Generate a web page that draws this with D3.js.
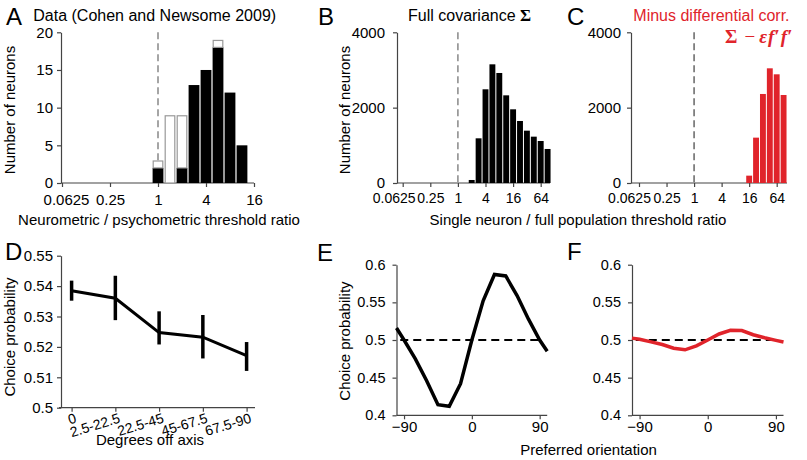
<!DOCTYPE html>
<html><head><meta charset="utf-8">
<script src="https://cdn.jsdelivr.net/npm/d3@7"></script>
<style>
html,body{margin:0;padding:0;background:#fff;}
svg{display:block;font-family:"Liberation Sans",Arial,Helvetica,sans-serif;}
</style></head><body>
<svg id="chart" width="807" height="460"></svg>
<script>
// ---------------- data ----------------
const histXTicksA = [0.0625, 0.25, 1, 4, 16];
const histXTicksBC = [0.0625, 0.25, 1, 4, 16, 64];
const aBinCenters = [1, 1.414, 2, 2.828, 4, 5.657, 8, 11.31];
const aFilled = [2, 0, 2, 13, 15, 18, 12, 5];
const aOpen = [1, 9, 7, 0, 0, 1, 0, 0];
const aYTicks = [0, 5, 10, 15, 20];
const bBinCenters = [2, 2.828, 4, 5.657, 8, 11.31, 16, 22.63, 32, 45.25, 64, 90.51];
const bCounts = [80, 1186, 2487, 3150, 2920, 2327, 1956, 1646, 1389, 1230, 1115, 903];
const cBinCenters = [16, 22.63, 32, 45.25, 64, 90.51];
const cCounts = [195, 1204, 2363, 3044, 2885, 2336];
const bcYTicks = [0, 2000, 4000];
const dCategories = ["0", "2.5-22.5", "22.5-45", "45-67.5", "67.5-90"];
const dCP = [0.5385, 0.5360, 0.5247, 0.5232, 0.5171];
const dErrLow = [0.5352, 0.5288, 0.5208, 0.5162, 0.5121];
const dErrHigh = [0.5418, 0.5434, 0.5317, 0.5305, 0.5216];
const dYTicks = [0.5, 0.51, 0.52, 0.53, 0.54, 0.55];
const orientations = [-100, -90, -75, -60, -45, -30, -15, 0, 15, 30, 45, 60, 75, 90, 100];
const eCP = [0.516, 0.500, 0.475, 0.446, 0.414, 0.412, 0.442, 0.500, 0.552, 0.587, 0.585, 0.559, 0.528, 0.500, 0.485];
const fCP = [0.5025, 0.501, 0.4975, 0.494, 0.489, 0.487, 0.4923, 0.500, 0.508, 0.5128, 0.5125, 0.507, 0.503, 0.4995, 0.4973];
const efYTicks = [0.4, 0.45, 0.5, 0.55, 0.6];
const efXTicks = [-90, 0, 90];
const refRange = [-95, 90];

// ---------------- style ----------------
const AX = "#444";
const RED = "#e0242b";
const SERIF = '"Liberation Serif","DejaVu Serif",serif';
const svg = d3.select("#chart");

function styleAxis(g, fs) {
  g.attr("font-size", null).attr("font-family", null);
  g.selectAll("path.domain").attr("stroke", AX).attr("stroke-width", 1.2);
  g.selectAll(".tick line").attr("stroke", AX).attr("stroke-width", 1.2);
  g.selectAll(".tick text").attr("fill", "#000").style("font-size", (fs || 15) + "px");
}
function bottomAxis(scale, ticks, fmt, y, x0, x1, pad, fs) {
  const g = svg.append("g").attr("transform", `translate(0,${y})`)
    .call(d3.axisBottom(scale).tickValues(ticks).tickFormat(fmt).tickSize(4).tickSizeOuter(0).tickPadding(pad));
  g.select("path.domain").attr("d", `M${x0},0H${x1}`);
  styleAxis(g, fs);
  return g;
}
function leftAxis(scale, ticks, fmt, x, pad, fs) {
  const g = svg.append("g").attr("transform", `translate(${x},0)`)
    .call(d3.axisLeft(scale).tickValues(ticks).tickFormat(fmt).tickSize(4).tickSizeOuter(0).tickPadding(pad));
  styleAxis(g, fs);
  return g;
}
function text(x, y, s, opts) {
  opts = opts || {};
  const t = svg.append("text").attr("x", x).attr("y", y).text(s)
    .style("font-size", (opts.size || 15) + "px")
    .attr("fill", opts.fill || "#000")
    .attr("text-anchor", opts.anchor || "start");
  if (opts.rotate) t.attr("transform", `rotate(${opts.rotate},${x},${y})`);
  return t;
}
const fmtHist = d => d === 0.0625 ? "0.0625" : String(d);
const fmtNum = d3.format(".2~f");
const halfBin = Math.SQRT2 ** 0.5;
function nudgeFirst(g, dx) {
  g.selectAll(".tick text").filter(d => d === 0.0625).attr("x", dx);
}

// ---------------- Panel A ----------------
const xA = d3.scaleLog().base(2).domain([0.0625, 16]).range([62, 254]);
const yA = d3.scaleLinear().domain([0, 20]).range([183, 32.3]);
const gAx = bottomAxis(xA, histXTicksA, fmtHist, 183, 61, 254, 7);
nudgeFirst(gAx, 4);
leftAxis(yA, aYTicks, d3.format("d"), 61, 4);
svg.append("line").attr("x1", xA(1)).attr("x2", xA(1)).attr("y1", yA(20)).attr("y2", yA(0))
  .attr("stroke", "#888").attr("stroke-width", 1.5).attr("stroke-dasharray", "7,4");
aBinCenters.forEach((c, i) => {
  const x0 = xA(c / halfBin) + 0.6, x1 = xA(c * halfBin) - 0.6;
  if (aFilled[i] > 0)
    svg.append("rect").attr("x", x0).attr("width", x1 - x0)
      .attr("y", yA(aFilled[i])).attr("height", yA(0) - yA(aFilled[i])).attr("fill", "#000");
  if (aOpen[i] > 0)
    svg.append("rect").attr("x", x0 + 0.6).attr("width", x1 - x0 - 1.2)
      .attr("y", yA(aFilled[i] + aOpen[i]) + 0.6).attr("height", yA(aFilled[i]) - yA(aFilled[i] + aOpen[i]) - 0.6)
      .attr("fill", "#fff").attr("stroke", "#999").attr("stroke-width", 1.2);
});
text(6, 25, "A", {size: 24});
text(33.3, 21, "Data (Cohen and Newsome 2009)", {size: 16});
text(15, 110, "Number of neurons", {anchor: "middle", rotate: -90});
text(159, 225, "Neurometric / psychometric threshold ratio", {anchor: "middle"});

// ---------------- Panel B ----------------
const xB = d3.scaleLog().base(2).domain([0.0625, 64]).range([402.7, 540.7]);
const yB = d3.scaleLinear().domain([0, 4000]).range([183, 32.3]);
const gBx = bottomAxis(xB, histXTicksBC, fmtHist, 183, 397, 550, 6, 14);
nudgeFirst(gBx, -9);
leftAxis(yB, bcYTicks, d3.format("d"), 397, 8);
svg.append("line").attr("x1", xB(1)).attr("x2", xB(1)).attr("y1", yB(4000)).attr("y2", yB(0))
  .attr("stroke", "#888").attr("stroke-width", 1.5).attr("stroke-dasharray", "7,4");
svg.append("g").selectAll("rect").data(bCounts).join("rect")
  .attr("x", (d, i) => xB(bBinCenters[i] / halfBin) + 0.5)
  .attr("width", (d, i) => xB(bBinCenters[i] * halfBin) - xB(bBinCenters[i] / halfBin) - 1)
  .attr("y", d => yB(d)).attr("height", d => yB(0) - yB(d)).attr("fill", "#000");
text(318, 25, "B", {size: 24});
const tB = text(408, 21, "Full covariance ", {size: 16});
tB.append("tspan").attr("font-family", SERIF).attr("font-weight", "bold").style("font-size", "17px").text("Σ");
text(350, 110, "Number of neurons", {anchor: "middle", rotate: -90});
text(578, 225, "Single neuron / full population threshold ratio", {anchor: "middle"});

// ---------------- Panel C ----------------
const xC = d3.scaleLog().base(2).domain([0.0625, 64]).range([639, 776.7]);
const yC = d3.scaleLinear().domain([0, 4000]).range([183, 32.3]);
const gCx = bottomAxis(xC, histXTicksBC, fmtHist, 183, 631, 787, 6, 14);
nudgeFirst(gCx, -10);
leftAxis(yC, bcYTicks, d3.format("d"), 631, 6);
svg.append("line").attr("x1", xC(1)).attr("x2", xC(1)).attr("y1", yC(4000)).attr("y2", yC(0))
  .attr("stroke", "#666").attr("stroke-width", 1.5).attr("stroke-dasharray", "7,4");
svg.append("g").selectAll("rect").data(cCounts).join("rect")
  .attr("x", (d, i) => xC(cBinCenters[i] / halfBin) + 0.5)
  .attr("width", (d, i) => xC(cBinCenters[i] * halfBin) - xC(cBinCenters[i] / halfBin) - 1)
  .attr("y", d => yC(d)).attr("height", d => yC(0) - yC(d)).attr("fill", RED);
text(567, 25, "C", {size: 24});
text(633.3, 20.5, "Minus differential corr.", {size: 16, fill: RED});
const tC = svg.append("text").attr("x", 725).attr("y", 43).attr("fill", RED)
  .attr("font-family", SERIF).style("font-size", "19px").attr("font-weight", "bold");
tC.append("tspan").text("Σ");
tC.append("tspan").attr("dx", 7).attr("font-weight", "normal").text("−");
tC.append("tspan").attr("dx", 4).attr("font-style", "italic").text("ε");
tC.append("tspan").attr("dx", 1).attr("font-style", "italic").text("f′");
tC.append("tspan").attr("dx", 1).attr("font-style", "italic").text("f′");

// ---------------- Panel D ----------------
const xD = d3.scalePoint().domain(dCategories).range([71.6, 246.6]);
const yD = d3.scaleLinear().domain([0.5, 0.55]).range([407.7, 255.7]);
const gDx = bottomAxis(xD, dCategories, d => d, 407.7, 59, 255, 2, 14);
gDx.selectAll(".tick text").attr("text-anchor", "end").attr("dy", null)
  .attr("transform", "translate(5,14.5) rotate(-17)").attr("y", 0).attr("x", 0);
leftAxis(yD, dYTicks, fmtNum, 61, 4);
svg.append("path").datum(dCP)
  .attr("d", d3.line().x((d, i) => xD(dCategories[i])).y(d => yD(d)))
  .attr("fill", "none").attr("stroke", "#000").attr("stroke-width", 3).attr("stroke-linejoin", "miter");
svg.append("g").selectAll("line").data(dCategories).join("line")
  .attr("x1", d => xD(d)).attr("x2", d => xD(d))
  .attr("y1", (d, i) => yD(dErrLow[i])).attr("y2", (d, i) => yD(dErrHigh[i]))
  .attr("stroke", "#000").attr("stroke-width", 3.5);
text(5, 260, "D", {size: 24});
text(14.5, 337, "Choice probability", {anchor: "middle", rotate: -90});
text(150, 445, "Degrees off axis", {anchor: "middle"});

// ---------------- Panel E ----------------
const xE = d3.scaleLinear().domain([-100, 100]).range([396.5, 547.2]);
const yE = d3.scaleLinear().domain([0.4, 0.6]).range([415.3, 264.7]);
bottomAxis(xE, efXTicks, d => d < 0 ? "−" + Math.abs(d) : String(d), 415.3, 396.5, 547.2, 2);
leftAxis(yE, efYTicks, fmtNum, 396.5, 7, 14.5);
svg.append("line").attr("x1", xE(refRange[0])).attr("x2", xE(refRange[1])).attr("y1", yE(0.5)).attr("y2", yE(0.5))
  .attr("stroke", "#000").attr("stroke-width", 2).attr("stroke-dasharray", "8,5");
svg.append("path").datum(eCP)
  .attr("d", d3.line().x((d, i) => xE(orientations[i])).y(d => yE(d)))
  .attr("fill", "none").attr("stroke", "#000").attr("stroke-width", 3.5);
text(317, 261, "E", {size: 24});
text(350, 341, "Choice probability", {anchor: "middle", rotate: -90});

// ---------------- Panel F ----------------
const xF = d3.scaleLinear().domain([-100, 100]).range([632, 783.5]);
const yF = d3.scaleLinear().domain([0.4, 0.6]).range([415.3, 264.7]);
bottomAxis(xF, efXTicks, d => d < 0 ? "−" + Math.abs(d) : String(d), 415.3, 632, 783.5, 2);
leftAxis(yF, efYTicks, fmtNum, 632, 7, 14.5);
svg.append("line").attr("x1", xF(refRange[0])).attr("x2", xF(refRange[1])).attr("y1", yF(0.5)).attr("y2", yF(0.5))
  .attr("stroke", "#000").attr("stroke-width", 2).attr("stroke-dasharray", "8,5");
svg.append("path").datum(fCP)
  .attr("d", d3.line().x((d, i) => xF(orientations[i])).y(d => yF(d)))
  .attr("fill", "none").attr("stroke", RED).attr("stroke-width", 3.5);
text(567, 260, "F", {size: 24});
text(588.5, 455, "Preferred orientation", {anchor: "middle"});
</script>
</body></html>
